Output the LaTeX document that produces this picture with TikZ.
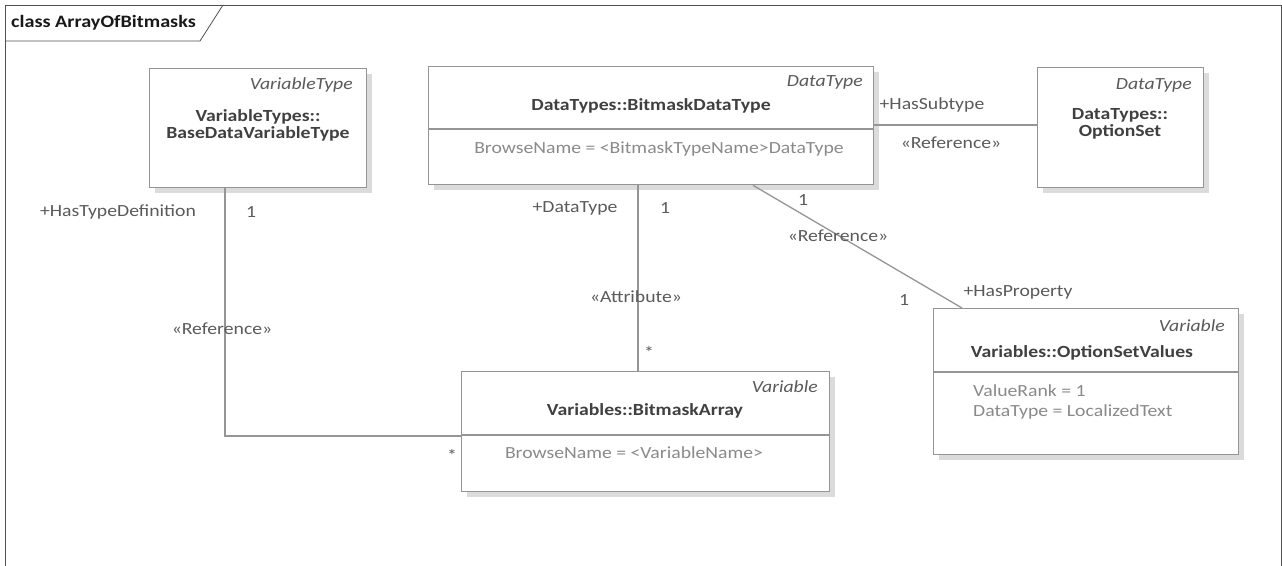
\documentclass[tikz,border=0pt]{standalone}
\usepackage{fontspec}
\setmainfont[FakeStretch=1.16]{Carlito}
\usetikzlibrary{shadows}

\definecolor{linie}{HTML}{959595}
\definecolor{rahmen}{HTML}{505050}
\definecolor{dunkel}{HTML}{404040}
\definecolor{mittel}{HTML}{5A5A5A}
\definecolor{hell}{HTML}{8A8A8A}

\begin{document}
\begin{tikzpicture}[x=1pt,y=-1pt,font=\fontsize{17}{20}\selectfont,
  klasse/.style={draw=linie,line width=1.3pt,fill=white,anchor=north west,inner sep=0pt,
    drop shadow={shadow xshift=5pt,shadow yshift=-5pt,fill=black!14,opacity=1}},
  stereo/.style={font=\fontsize{17}{20}\selectfont\itshape,text=mittel,anchor=east,inner sep=0pt},
  kname/.style={font=\fontsize{17}{20}\selectfont\bfseries,text=dunkel,inner sep=0pt,align=center},
  attr/.style={text=hell,inner sep=0pt},
  rolle/.style={text=mittel,inner sep=0pt},
  conn/.style={draw=linie,line width=1.3pt}]

% Rahmen und Titel
  \useasboundingbox (0,0) rectangle (1282,565);
  \draw[rahmen,line width=0.8pt] (5,575) -- (5,5) -- (1281,5) -- (1281,575);
  \draw[rahmen,line width=0.8pt] (5,41) -- (200,41) -- (223,5);
  \node[kname,font=\fontsize{17.4}{20}\selectfont\bfseries,text=black!90,anchor=west] (titel) at (11,23) {class ArrayOfBitmasks};

% Klassen
  \node[klasse,minimum width=217pt,minimum height=119pt] (bdvt) at (149,68) {};
  \node[stereo] (bdvtst) at (353,85) {VariableType};
  \node[kname] (bdvtn) at (258,125) {VariableTypes::\\[-3pt]BaseDataVariableType};

  \node[klasse,minimum width=445pt,minimum height=118pt] (bdt) at (428,66) {};
  \node[stereo] (bdtst) at (863,82) {DataType};
  \node[kname] (bdtn) at (651,106) {DataTypes::BitmaskDataType};
  \draw[linie,line width=1.3pt] (bdt.west |- 0,129) -- (bdt.east |- 0,129);
  \node[attr] (bdta) at (659,149) {BrowseName = <BitmaskTypeName>DataType};

  \node[klasse,minimum width=166pt,minimum height=120pt] (os) at (1037,67) {};
  \node[stereo] (osst) at (1192,85) {DataType};
  \node[kname] (osn) at (1120,124) {DataTypes::\\[-3pt]OptionSet};

  \node[klasse,minimum width=305pt,minimum height=146pt] (osv) at (933,308) {};
  \node[stereo] (osvst) at (1225,326) {Variable};
  \node[kname] (osvn) at (1082,353) {Variables::OptionSetValues};
  \draw[linie,line width=1.3pt] (osv.west |- 0,372) -- (osv.east |- 0,372);
  \node[attr,anchor=west] (osva) at (973,391) {ValueRank = 1};
  \node[attr,anchor=west] (osvb) at (973,412) {DataType = LocalizedText};

  \node[klasse,minimum width=368pt,minimum height=120pt] (ba) at (461,371) {};
  \node[stereo] (bast) at (818,387) {Variable};
  \node[kname] (ban) at (645,411) {Variables::BitmaskArray};
  \draw[linie,line width=1.3pt] (ba.west |- 0,435) -- (ba.east |- 0,435);
  \node[attr] (baa) at (634,453) {BrowseName = <VariableName>};

% Verbindungen
  \draw[conn] ([xshift=76pt]bdvt.south west) |- ([yshift=-65pt]ba.north west);
  \draw[conn] ([xshift=210pt]bdt.south west) -- ([xshift=177pt]ba.north west);
  \draw[conn] ([yshift=-59pt]bdt.north east) -- ([yshift=-58pt]os.north west);
  \draw[conn] ([xshift=325pt]bdt.south west) -- ([xshift=29pt]osv.north west);

% Beschriftungen der Verbindungen
  \node[rolle] (r1a) at (118,212) {+HasTypeDefinition};
  \node[rolle] (r1b) at (251,212) {1};
  \node[rolle] (r1c) at (222,329) {«Reference»};
  \node[rolle] (r1d) at (452,455) {*};

  \node[rolle] (r2a) at (575,208) {+DataType};
  \node[rolle] (r2b) at (665,208) {1};
  \node[rolle] (r2c) at (636,297) {«Attribute»};
  \node[rolle] (r2d) at (649,352) {*};

  \node[rolle] (r3a) at (932,105) {+HasSubtype};
  \node[rolle] (r3b) at (951,143) {«Reference»};

  \node[rolle] (r4a) at (803,200) {1};
  \node[rolle] (r4b) at (838,236) {«Reference»};
  \node[rolle] (r4c) at (904,300) {1};
  \node[rolle] (r4d) at (1018,292) {+HasProperty};
\end{tikzpicture}
\end{document}
